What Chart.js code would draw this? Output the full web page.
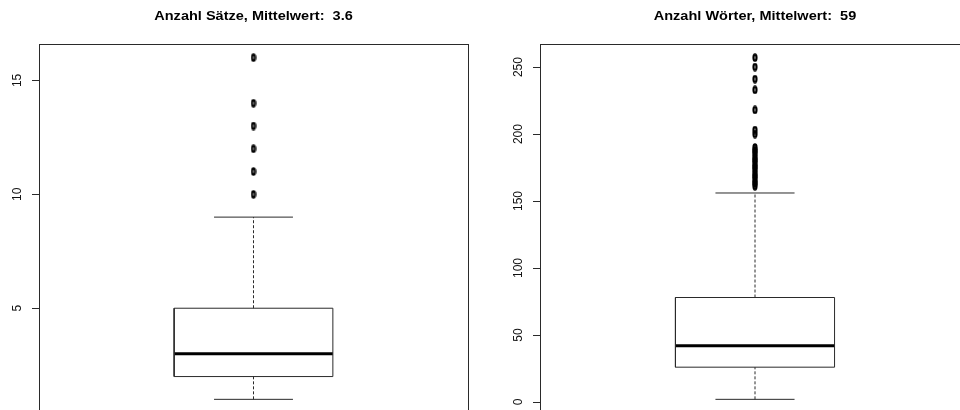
<!DOCTYPE html>
<html>
<head>
<meta charset="utf-8">
<script src="https://cdn.jsdelivr.net/npm/chart.js@4"></script>
<style>
  html, body { margin: 0; padding: 0; width: 960px; height: 410px; overflow: hidden; background: #fff; }
  canvas { position: absolute; top: 0; }
  #left { left: 0; }
  #right { left: 480px; }
</style>
</head>
<body>
<canvas id="left" width="480" height="420"></canvas>
<canvas id="right" width="500" height="420"></canvas>
<script>
// Panel titles
const saetzeTitle = 'Anzahl Sätze, Mittelwert:  3.6';
const woerterTitle = 'Anzahl Wörter, Mittelwert:  59';

// Five-number summaries: lower whisker, Q1, median, Q3, upper whisker
const saetzeStats = [1, 2, 3, 5, 9];
const woerterStats = [2, 26, 42, 78, 156];

// Values beyond the whiskers
const saetzeOutliers = [10, 11, 12, 13, 14, 16];
const woerterOutliers = [257, 250, 241, 233, 218, 203, 200, 190, 188, 187, 185, 183, 181,
                         180, 178, 176, 175, 173, 171, 169, 168, 166, 164, 163, 161];

// Tick labels of the value axes
const saetzeTicks = [5, 10, 15];
const woerterTicks = [0, 50, 100, 150, 200, 250];

// Value axis ranges (data range widened by 4 %)
const saetzeRange = [0.4, 16.6];
const woerterRange = [-8.2, 267.2];

const FONT = "'Liberation Sans', Arial, Helvetica, sans-serif";
const LINE = '#2a2a2a';
const BOX_HALF = 0.185;
const CAP_HALF = 0.092;
const TITLE_STRETCH = 1.21;

// Small open-circle marker used for outliers
function makeMarker() {
  const c = document.createElement('canvas');
  c.width = 6; c.height = 9;
  const g = c.getContext('2d');
  g.strokeStyle = '#000';
  g.lineWidth = 2.2;
  g.beginPath();
  g.ellipse(3, 4.5, 1.5, 3.1, 0, 0, Math.PI * 2);
  g.stroke();
  return c;
}
const marker = makeMarker();

// Frame around the plotting region, the title and rotated tick labels
const framePlugin = {
  id: 'frame',
  afterDraw(chart, args, opts) {
    const { ctx, chartArea: a } = chart;
    ctx.save();
    ctx.strokeStyle = LINE;
    ctx.lineWidth = 1;
    ctx.strokeRect(Math.round(a.left) + 0.5, Math.round(a.top) + 0.5,
                   Math.round(a.right - a.left), Math.round(a.bottom - a.top));

    // Title, slightly widened
    const tb = chart.titleBlock;
    const tOpts = chart.options.plugins.title;
    ctx.save();
    ctx.fillStyle = '#000';
    ctx.font = 'bold 12px ' + FONT;
    ctx.textAlign = 'center';
    ctx.textBaseline = 'middle';
    ctx.translate((a.left + a.right) / 2, tb.top + tOpts.padding.top + 7.2);
    ctx.scale(TITLE_STRETCH, 1);
    ctx.fillText(tOpts.text, 0, 0);
    ctx.restore();

    const y = chart.scales.y;
    ctx.fillStyle = '#111';
    ctx.font = '12px ' + FONT;
    ctx.textAlign = 'center';
    ctx.textBaseline = 'middle';
    opts.labels.forEach(v => {
      const py = y.getPixelForValue(v);
      ctx.save();
      ctx.translate(a.left - opts.offset, py);
      ctx.rotate(-Math.PI / 2);
      ctx.fillText(String(v), 0, 0);
      ctx.restore();
    });
    ctx.restore();
  }
};

function seg(x0, y0, x1, y1) { return [{ x: x0, y: y0 }, { x: x1, y: y1 }]; }

function boxplot(id, title, stats, outliers, ticks, range, axisWidth, padRight) {
  const [lo, q1, med, q3, hi] = stats;
  const l = 1 - BOX_HALF, r = 1 + BOX_HALF;
  const line = (data, extra) => Object.assign({
    data, showLine: true, borderColor: LINE, borderWidth: 1,
    pointRadius: 0, pointHoverRadius: 0, fill: false, tension: 0
  }, extra || {});
  const datasets = [
    line([{ x: l, y: q1 }, { x: r, y: q1 }, { x: r, y: q3 }, { x: l, y: q3 }, { x: l, y: q1 }]),
    line(seg(1, q3, 1, hi), { borderDash: [3, 2] }),
    line(seg(1, lo, 1, q1), { borderDash: [3, 2] }),
    line(seg(1 - CAP_HALF, hi, 1 + CAP_HALF, hi)),
    line(seg(1 - CAP_HALF, lo, 1 + CAP_HALF, lo)),
    line(seg(l, med, r, med), { borderColor: '#000', borderWidth: 3, borderCapStyle: 'butt' }),
    {
      data: outliers.map(v => ({ x: 1, y: v })),
      showLine: false, pointStyle: marker, pointRadius: 4, pointHoverRadius: 4
    }
  ];
  return new Chart(document.getElementById(id), {
    type: 'scatter',
    data: { datasets },
    options: {
      responsive: false,
      animation: false,
      events: [],
      layout: { padding: { left: 0, right: padRight, top: 0, bottom: 7 } },
      plugins: {
        legend: { display: false },
        tooltip: { enabled: false },
        title: {
          display: true, text: title, fullSize: false, color: 'rgba(0,0,0,0)',
          font: { family: FONT, size: 12, weight: 'bold', lineHeight: 1.2 },
          padding: { top: 9, bottom: 20.6 }
        },
        frame: { labels: ticks, offset: 21 }
      },
      scales: {
        x: { type: 'linear', min: 0.5, max: 1.5, display: false },
        y: {
          type: 'linear', min: range[0], max: range[1],
          afterBuildTicks: s => { s.ticks = ticks.map(v => ({ value: v })); },
          afterFit: s => { s.width = axisWidth; },
          ticks: { display: false },
          grid: { drawOnChartArea: false, drawTicks: true, tickLength: 7, color: LINE, lineWidth: 1 },
          border: { display: false }
        }
      }
    },
    plugins: [framePlugin]
  });
}

boxplot('left', saetzeTitle, saetzeStats, saetzeOutliers, saetzeTicks, saetzeRange, 39, 12);
boxplot('right', woerterTitle, woerterStats, woerterOutliers, woerterTicks, woerterRange, 60, 10);
</script>
</body>
</html>
